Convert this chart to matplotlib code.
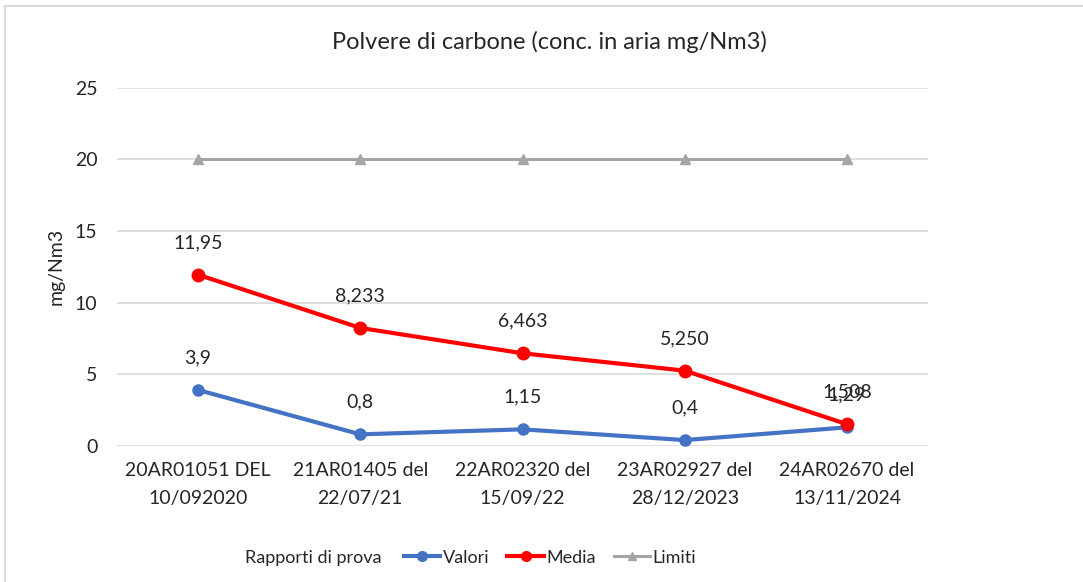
import matplotlib
matplotlib.use("Agg")
import matplotlib.pyplot as plt
from matplotlib.lines import Line2D
from matplotlib.patches import Rectangle

plt.rcParams['font.family'] = ['Lato', 'DejaVu Sans']

categories = ["20AR01051 DEL\n10/092020", "21AR01405 del\n22/07/21", "22AR02320 del\n15/09/22",
              "23AR02927 del\n28/12/2023", "24AR02670 del\n13/11/2024"]
valori = [3.9, 0.8, 1.15, 0.4, 1.29]
valori_labels = ["3,9", "0,8", "1,15", "0,4", "1,29"]
media = [11.95, 8.233, 6.463, 5.250, 1.508]
media_labels = ["11,95", "8,233", "6,463", "5,250", "1,508"]
limiti = [20, 20, 20, 20, 20]
yticks = [0, 5, 10, 15, 20, 25]

c_blue = "#4472C4"
c_red = "#FF0000"
c_gray = "#A5A5A5"
txt = "#262626"
fs = 14

fig = plt.figure(figsize=(10.83, 5.82), dpi=100)
ax = fig.add_axes([0.108, 0.234, 0.749, 0.615])

x = list(range(len(categories)))
ax.plot(x, limiti, color=c_gray, lw=2.2, marker="^", ms=7, zorder=2)
ax.plot(x, valori, color=c_blue, lw=3, marker="o", ms=8, zorder=3)
ax.plot(x, media, color=c_red, lw=3, marker="o", ms=9, zorder=4)

for xi, v, l in zip(x, valori, valori_labels):
    ax.annotate(l, (xi, v), xytext=(0, 17), textcoords="offset points", ha="center",
                va="bottom", fontsize=fs, color=txt)
for xi, v, l in zip(x, media, media_labels):
    ax.annotate(l, (xi, v), xytext=(0, 17), textcoords="offset points", ha="center",
                va="bottom", fontsize=fs, color=txt)

ax.set_xlim(-0.5, len(categories) - 0.5)
ax.set_ylim(0, 25)
ax.set_yticks(yticks)
ax.set_yticklabels([str(t) for t in yticks], fontsize=fs, color=txt)
ax.set_xticks(x)
ax.set_xticklabels(categories, fontsize=fs, color=txt, linespacing=1.75)
ax.tick_params(length=0, pad=14)
ax.tick_params(axis="x", pad=12)
ax.grid(axis="y", color="#D9D9D9", lw=1.2)
ax.set_axisbelow(True)
for s in ax.spines.values():
    s.set_visible(False)
ax.set_ylabel("mg/Nm3", fontsize=fs, color=txt)
ax.yaxis.set_label_coords(-0.065, 0.5)

fig.text(0.507, 0.928, "Polvere di carbone (conc. in aria mg/Nm3)", ha="center", va="center",
         fontsize=17, color=txt)

fig.text(0.226, 0.042, "Rapporti di prova", ha="left", va="center", fontsize=13, color=txt)
handles = [Line2D([], [], color=c_blue, lw=3, marker="o", ms=7),
           Line2D([], [], color=c_red, lw=3, marker="o", ms=7),
           Line2D([], [], color=c_gray, lw=2.2, marker="^", ms=6)]
fig.legend(handles, ["Valori", "Media", "Limiti"], loc="center left", bbox_to_anchor=(0.358, 0.042),
           ncol=3, frameon=False, fontsize=13, handlelength=2.0, handletextpad=0.15,
           columnspacing=1.0, labelcolor=txt)

fig.patches.append(Rectangle((0.005, -0.01), 1.1, 1.0, transform=fig.transFigure,
                             fill=False, edgecolor="#D9D9D9", lw=1.5))

fig.savefig("out.png", dpi=100)
